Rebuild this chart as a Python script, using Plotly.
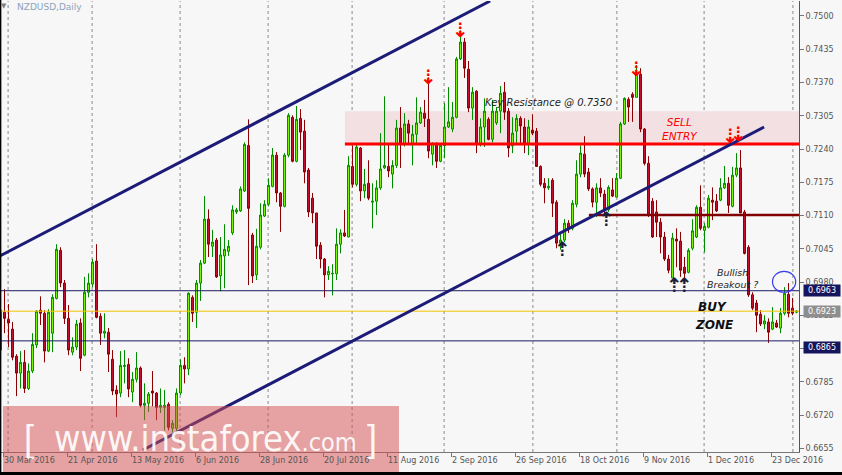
import plotly.graph_objects as go

# ---------------- data ----------------
opens = [0.6847,0.6921,0.6907,0.6888,0.6835,0.6802,0.6823,0.6772,0.6806,0.6857,
0.6925,0.6919,0.6845,0.6880,0.6948,0.7042,0.6978,0.6909,0.6843,0.6853,
0.6900,0.6837,0.6960,0.6976,0.7021,0.6913,0.6880,0.6882,0.6829,0.6769,
0.6763,0.6815,0.6819,0.6765,0.6790,0.6812,0.6739,0.6743,0.6767,0.6763,
0.6735,0.6735,0.6741,0.6694,0.6694,0.6763,0.6817,0.6810,0.6950,0.6921,
0.6978,0.7017,0.7103,0.7050,0.7062,0.6992,0.7031,0.7040,0.7076,0.7117,
0.7119,0.7158,0.7247,0.7072,0.6994,0.7048,0.7109,0.7132,0.7167,0.7228,
0.7154,0.7128,0.7228,0.7302,0.7216,0.7300,0.7275,0.7199,0.7144,0.7115,
0.7052,0.7025,0.6994,0.6996,0.6996,0.7054,0.7076,0.7068,0.7206,0.7171,
0.7242,0.7158,0.7173,0.7136,0.7138,0.7164,0.7203,0.7206,0.7191,0.7208,
0.7281,0.7249,0.7289,0.7249,0.7269,0.7291,0.7310,0.7298,0.7230,0.7251,
0.7216,0.7247,0.7283,0.7279,0.7302,0.7416,0.7449,0.7396,0.7320,0.7353,
0.7251,0.7283,0.7298,0.7259,0.7291,0.7314,0.7351,0.7314,0.7246,0.7275,
0.7300,0.7283,0.7251,0.7277,0.7275,0.7206,0.7173,0.7164,0.7179,0.7136,
0.7056,0.7062,0.7095,0.7085,0.7132,0.7191,0.7230,0.7195,0.7162,0.7136,
0.7164,0.7152,0.7121,0.7160,0.7146,0.7183,0.7289,0.7337,0.7347,0.7341,
0.7386,0.7279,0.7212,0.7138,0.7117,0.7097,0.7068,0.7025,0.6988,0.7064,
0.7060,0.7009,0.6999,0.7046,0.7068,0.7126,0.7081,0.7087,0.7140,0.7138,
0.7140,0.7164,0.7173,0.7128,0.7189,0.7203,0.7117,0.7048,0.6955,0.6939,
0.6917,0.6898,0.6902,0.6888,0.6900,0.6890,0.6919,0.6956,0.6929,0.6921]
highs = [0.6935,0.6966,0.6937,0.6902,0.6839,0.6845,0.6847,0.6821,0.6880,0.6925,
0.6952,0.6925,0.6927,0.6956,0.7054,0.7048,0.6984,0.6935,0.6872,0.6906,
0.6909,0.6990,0.6997,0.7025,0.7054,0.6919,0.6919,0.6890,0.6847,0.6778,
0.6845,0.6847,0.6831,0.6804,0.6843,0.6815,0.6782,0.6765,0.6806,0.6765,
0.6772,0.6769,0.6745,0.6710,0.6772,0.6829,0.6833,0.6960,0.6954,0.6984,
0.7023,0.7148,0.7122,0.7082,0.7066,0.7068,0.7093,0.7062,0.7130,0.7125,
0.7167,0.7253,0.7298,0.7076,0.7084,0.7134,0.7140,0.7183,0.7242,0.7234,
0.7156,0.7232,0.7310,0.7306,0.7324,0.7318,0.7297,0.7203,0.7154,0.7115,
0.7058,0.7027,0.7011,0.7015,0.7085,0.7083,0.7121,0.7226,0.7247,0.7249,
0.7244,0.7201,0.7218,0.7173,0.7179,0.7271,0.7343,0.7251,0.7218,0.7297,
0.7322,0.7310,0.7297,0.7287,0.7341,0.7322,0.7336,0.7380,0.7253,0.7253,
0.7251,0.7330,0.7361,0.7332,0.7420,0.7472,0.7457,0.7412,0.7361,0.7355,
0.7300,0.7339,0.7302,0.7336,0.7322,0.7363,0.7371,0.7320,0.7302,0.7308,
0.7304,0.7300,0.7297,0.7308,0.7281,0.7208,0.7183,0.7183,0.7183,0.7140,
0.7076,0.7103,0.7101,0.7140,0.7218,0.7247,0.7265,0.7203,0.7165,0.7173,
0.7183,0.7160,0.7169,0.7183,0.7193,0.7293,0.7341,0.7341,0.7351,0.7404,
0.7398,0.7281,0.7226,0.7144,0.7140,0.7105,0.7078,0.7033,0.7076,0.7085,
0.7078,0.7029,0.7046,0.7103,0.7130,0.7169,0.7095,0.7150,0.7165,0.7152,
0.7183,0.7207,0.7185,0.7205,0.7232,0.7238,0.7121,0.7052,0.6960,0.6945,
0.6925,0.6915,0.6909,0.6931,0.6906,0.6929,0.6970,0.6978,0.6949,0.6925]
lows = [0.6837,0.6880,0.6853,0.6827,0.6757,0.6772,0.6763,0.6769,0.6802,0.6851,
0.6896,0.6823,0.6843,0.6843,0.6946,0.6970,0.6898,0.6837,0.6837,0.6847,
0.6806,0.6835,0.6950,0.6970,0.6909,0.6857,0.6870,0.6804,0.6759,0.6716,
0.6755,0.6782,0.6755,0.6745,0.6784,0.6735,0.6710,0.6726,0.6737,0.6710,
0.6724,0.6690,0.6690,0.6686,0.6686,0.6759,0.6782,0.6798,0.6902,0.6890,
0.6943,0.7015,0.7029,0.7029,0.6988,0.6962,0.6968,0.7031,0.7072,0.7113,
0.7117,0.7156,0.6974,0.6978,0.6984,0.7044,0.7107,0.7128,0.7165,0.7136,
0.7078,0.7126,0.7224,0.7214,0.7214,0.7238,0.7173,0.7107,0.7095,0.7025,
0.7007,0.6950,0.6984,0.6954,0.6984,0.7036,0.7068,0.7068,0.7165,0.7167,
0.7138,0.7144,0.7140,0.7085,0.7111,0.7160,0.7201,0.7185,0.7163,0.7203,
0.7203,0.7245,0.7249,0.7208,0.7249,0.7289,0.7283,0.7222,0.7208,0.7203,
0.7214,0.7222,0.7281,0.7273,0.7300,0.7414,0.7379,0.7312,0.7297,0.7232,
0.7245,0.7244,0.7257,0.7253,0.7287,0.7271,0.7297,0.7224,0.7232,0.7251,
0.7251,0.7232,0.7228,0.7267,0.7205,0.7167,0.7134,0.7160,0.7107,0.7046,
0.7043,0.7058,0.7076,0.7081,0.7126,0.7185,0.7185,0.7158,0.7126,0.7107,
0.7146,0.7111,0.7117,0.7146,0.7146,0.7181,0.7287,0.7293,0.7293,0.7341,
0.7273,0.7208,0.7107,0.7066,0.7068,0.7036,0.7021,0.6997,0.6988,0.7009,
0.6990,0.6988,0.6997,0.7042,0.7066,0.7081,0.7038,0.7085,0.7101,0.7117,
0.7138,0.7162,0.7115,0.7126,0.7185,0.7115,0.7034,0.6951,0.6925,0.6882,
0.6894,0.6888,0.6861,0.6886,0.6890,0.6880,0.6915,0.6911,0.6915,0.6919]
closes = [0.6925,0.6909,0.6900,0.6833,0.6802,0.6823,0.6772,0.6806,0.6858,0.6923,
0.6919,0.6845,0.6921,0.6950,0.7044,0.6978,0.6909,0.6847,0.6853,0.6898,
0.6831,0.6960,0.6978,0.7019,0.6911,0.6880,0.6884,0.6839,0.6767,0.6761,
0.6817,0.6817,0.6771,0.6790,0.6812,0.6739,0.6743,0.6761,0.6763,0.6735,
0.6739,0.6739,0.6696,0.6704,0.6763,0.6817,0.6810,0.6958,0.6919,0.6978,
0.7017,0.7103,0.7054,0.7058,0.6990,0.7033,0.7044,0.7050,0.7121,0.7121,
0.7162,0.7249,0.7124,0.6992,0.7050,0.7111,0.7132,0.7169,0.7228,0.7154,
0.7128,0.7228,0.7306,0.7216,0.7298,0.7273,0.7195,0.7117,0.7115,0.7050,
0.7025,0.6994,0.7001,0.6997,0.7054,0.7076,0.7070,0.7208,0.7171,0.7244,
0.7158,0.7171,0.7144,0.7138,0.7164,0.7201,0.7208,0.7197,0.7208,0.7281,
0.7249,0.7289,0.7271,0.7269,0.7291,0.7312,0.7300,0.7236,0.7251,0.7216,
0.7247,0.7283,0.7293,0.7302,0.7416,0.7449,0.7398,0.7320,0.7351,0.7249,
0.7283,0.7314,0.7259,0.7314,0.7314,0.7349,0.7312,0.7242,0.7271,0.7300,
0.7285,0.7251,0.7283,0.7271,0.7206,0.7171,0.7164,0.7167,0.7134,0.7056,
0.7062,0.7095,0.7083,0.7134,0.7191,0.7232,0.7191,0.7162,0.7136,0.7164,
0.7154,0.7121,0.7165,0.7148,0.7183,0.7289,0.7339,0.7322,0.7341,0.7386,
0.7279,0.7212,0.7111,0.7068,0.7097,0.7068,0.7025,0.7003,0.7066,0.7060,
0.7003,0.6997,0.7042,0.7080,0.7126,0.7085,0.7089,0.7144,0.7136,0.7119,
0.7164,0.7173,0.7130,0.7189,0.7203,0.7115,0.7036,0.6955,0.6929,0.6915,
0.6898,0.6904,0.6882,0.6902,0.6892,0.6919,0.6958,0.6919,0.6919,0.6923]
first_bar = -1
bars = list(range(first_bar, first_bar + len(closes)))

date_labels = ["30 Mar 2016", "21 Apr 2016", "13 May 2016", "6 Jun 2016", "28 Jun 2016",
               "20 Jul 2016", "11 Aug 2016", "2 Sep 2016", "26 Sep 2016", "18 Oct 2016",
               "9 Nov 2016", "1 Dec 2016", "23 Dec 2016"]
date_label_bars = [-0.375 + 16 * k for k in range(len(date_labels))]
month_start_bars = [0.9, 21.9, 43.9, 65.9, 86.9, 109.9, 132.1, 153.1, 174.9, 197.1]
price_ticks = [0.6655, 0.6720, 0.6785, 0.6850, 0.6915, 0.6980, 0.7045, 0.7110,
               0.7175, 0.7240, 0.7305, 0.7370, 0.7435, 0.7500]

# drawn levels / analysis objects
resistance_level = 0.7250
sell_zone_top = 0.7314
zone_start_bar = 85.1
support_level = 0.7111
support_start_bar = 146.1
breakout_level = 0.6963
buy_zone_low = 0.6865
last_price = 0.6923
upper_channel = ([-1.2, 121.4], [0.70309, 0.75293])
lower_channel = ([34.6, 189.9], [0.66517, 0.72830])
down_arrows = [(105.9, 0.7380), (113.9, 0.7472), (157.9, 0.7396), (181.4, 0.7265), (183.4, 0.7269)]
up_arrows = [(139.4, 0.7044), (150.6, 0.7103), (167.6, 0.6974), (169.9, 0.6974)]
circle_box = (192.0, 197.8, 0.6960, 0.7001)

X_RANGE = [-0.875, 198.625]
Y_RANGE = [0.66478, 0.75293]

fig = go.Figure()
fig.add_trace(go.Candlestick(
    x=bars, open=opens, high=highs, low=lows, close=closes,
    increasing=dict(fillcolor="#7CFC00", line=dict(color="#008C00", width=1)),
    decreasing=dict(fillcolor="#C8102E", line=dict(color="#8B0000", width=1)),
    showlegend=False, hoverinfo="skip"))

shapes = []
shapes.append(dict(type="rect", xref="x", yref="y", x0=zone_start_bar, x1=X_RANGE[1],
                   y0=resistance_level, y1=sell_zone_top, fillcolor="#F3E0E2",
                   line=dict(width=0), layer="below"))
for b in month_start_bars:
    shapes.append(dict(type="line", xref="x", yref="paper", x0=b, x1=b, y0=0, y1=1,
                       line=dict(color="#8A8A8A", width=1, dash="3px,3px"), layer="below"))
shapes.append(dict(type="line", xref="x", yref="y", x0=zone_start_bar, x1=X_RANGE[1],
                   y0=resistance_level, y1=resistance_level, line=dict(color="#FF0000", width=3)))
shapes.append(dict(type="line", xref="x", yref="y", x0=support_start_bar, x1=X_RANGE[1],
                   y0=support_level, y1=support_level, line=dict(color="#800000", width=2.5)))
for lv in (breakout_level, buy_zone_low):
    shapes.append(dict(type="line", xref="paper", yref="y", x0=0, x1=1, y0=lv, y1=lv,
                       line=dict(color="#1A1A66", width=1)))
shapes.append(dict(type="line", xref="paper", yref="y", x0=0, x1=1, y0=last_price, y1=last_price,
                   line=dict(color="#F2C200", width=1)))
for ch in (upper_channel, lower_channel):
    shapes.append(dict(type="line", xref="x", yref="y", x0=ch[0][0], x1=ch[0][1],
                       y0=ch[1][0], y1=ch[1][1], line=dict(color="#1C1C78", width=3)))
shapes.append(dict(type="circle", xref="x", yref="y", x0=circle_box[0], x1=circle_box[1],
                   y0=circle_box[2], y1=circle_box[3], line=dict(color="#3A3AF0", width=1.2)))
shapes.append(dict(type="rect", xref="paper", yref="paper", x0=0.0025, x1=0.4987,
                   y0=-0.0466, y1=0.102, fillcolor="rgba(214,78,78,0.5)",
                   line=dict(width=0), layer="above"))
shapes.append(dict(type="line", xref="paper", yref="paper", x0=-0.0008, x1=-0.0008,
                   y0=-0.052, y1=1.003, line=dict(color="black", width=2)))
shapes.append(dict(type="line", xref="paper", yref="paper", x0=-0.002, x1=1.056,
                   y0=-0.0475, y1=-0.0475, line=dict(color="black", width=3)))

ann = []
ann.append(dict(xref="paper", yref="paper", x=0.0035, y=0.989, text="▼", showarrow=False,
                font=dict(size=7, color="#808080", family="DejaVu Sans"), xanchor="center", yanchor="middle"))
ann.append(dict(xref="paper", yref="paper", x=0.0175, y=0.986, text="NZDUSD,Daily", showarrow=False,
                font=dict(size=9, color="#8FA2BC", family="DejaVu Sans"), xanchor="left", yanchor="middle"))
for bx, py in down_arrows:
    ann.append(dict(xref="x", yref="y", x=bx, y=py, text="<b>⇣</b>", showarrow=False,
                    font=dict(size=20, color="#FF0000", family="DejaVu Sans"), xanchor="center", yanchor="middle"))
for bx, py in up_arrows:
    ann.append(dict(xref="x", yref="y", x=bx, y=py, text="<b>⇡</b>", showarrow=False,
                    font=dict(size=20, color="#1B1F3A", family="DejaVu Sans"), xanchor="center", yanchor="middle"))
ann.append(dict(xref="x", yref="y", x=119.6, y=0.7330, text="<i>Key Resistance @ 0.7350</i>",
                showarrow=False, xanchor="left", yanchor="middle",
                font=dict(size=10, color="#1E1E1E", family="DejaVu Sans")))
ann.append(dict(xref="x", yref="y", x=168.9, y=0.7279, text="<i>SELL<br>ENTRY</i>",
                showarrow=False, xanchor="center", yanchor="middle", align="center",
                font=dict(size=10.5, color="#FF0000", family="DejaVu Sans")))
ann.append(dict(xref="x", yref="y", x=181.9, y=0.6987, text="<i>Bullish<br>Breakout ?</i>",
                showarrow=False, xanchor="center", yanchor="middle", align="center",
                font=dict(size=9.5, color="#1E1E1E", family="DejaVu Sans")))
ann.append(dict(xref="x", yref="y", x=176.9, y=0.6931, text="<b><i>BUY</i></b>",
                showarrow=False, xanchor="center", yanchor="middle",
                font=dict(size=12, color="#111111", family="DejaVu Sans")))
ann.append(dict(xref="x", yref="y", x=177.4, y=0.6897, text="<b><i>ZONE</i></b>",
                showarrow=False, xanchor="center", yanchor="middle",
                font=dict(size=12, color="#111111", family="DejaVu Sans")))
for lv, col, ysh in ((breakout_level, "#15155E", 0), (last_price, "#8E8E8E", 0), (buy_zone_low, "#15155E", -7)):
    ann.append(dict(xref="paper", yref="y", x=1, y=lv, xanchor="left", yanchor="middle",
                    xshift=4, yshift=ysh, text=f"{lv:.4f}", showarrow=False, width=34, height=9,
                    bgcolor=col, borderpad=1, align="center",
                    font=dict(size=8, color="white", family="DejaVu Sans")))
wm_font = "DejaVu Sans Condensed, Liberation Sans"
ann.append(dict(xref="paper", yref="paper", x=0.0351, y=0.031, text="[", showarrow=False,
                xanchor="center", yanchor="middle",
                font=dict(size=36, color="rgba(255,255,255,0.92)", family="Liberation Sans")))
ann.append(dict(xref="paper", yref="paper", x=0.0639, y=0.031,
                text="www.instaforex<span style='font-size:25px'>.com</span>", showarrow=False,
                xanchor="left", yanchor="middle",
                font=dict(size=36, color="rgba(255,255,255,0.92)", family=wm_font)))
ann.append(dict(xref="paper", yref="paper", x=0.4650, y=0.031, text="]", showarrow=False,
                xanchor="center", yanchor="middle",
                font=dict(size=36, color="rgba(255,255,255,0.92)", family="Liberation Sans")))
for b, lab in zip(date_label_bars, date_labels):
    ann.append(dict(xref="x", yref="paper", x=b, y=-0.0195, text=lab, showarrow=False,
                    xanchor="left", yanchor="middle", xshift=-1,
                    font=dict(size=8, color="#555555", family="DejaVu Sans")))

fig.update_layout(
    width=842, height=475,
    margin=dict(l=1, r=43, t=1, b=23),
    paper_bgcolor="#F7F7F7", plot_bgcolor="#F7F7F7",
    shapes=shapes, annotations=ann,
    xaxis=dict(range=X_RANGE, rangeslider=dict(visible=False), showgrid=False, zeroline=False,
               tickmode="array", tickvals=date_label_bars, showticklabels=False,
               ticks="outside", ticklen=4, tickcolor="#777",
               showline=True, linecolor="#777", linewidth=1),
    yaxis=dict(range=Y_RANGE, side="right", showgrid=False, zeroline=False,
               tickmode="array", tickvals=price_ticks, ticktext=[f"{t:.4f}" for t in price_ticks],
               ticks="outside", ticklen=4, tickcolor="#777",
               showline=True, linecolor="#555", linewidth=1,
               tickfont=dict(size=8, color="#555", family="DejaVu Sans")),
    boxgap=0.3,
)

fig.write_html("out.html", config={"displayModeBar": False},
               post_script="document.body.style.margin='0';document.body.style.overflow='hidden';")
